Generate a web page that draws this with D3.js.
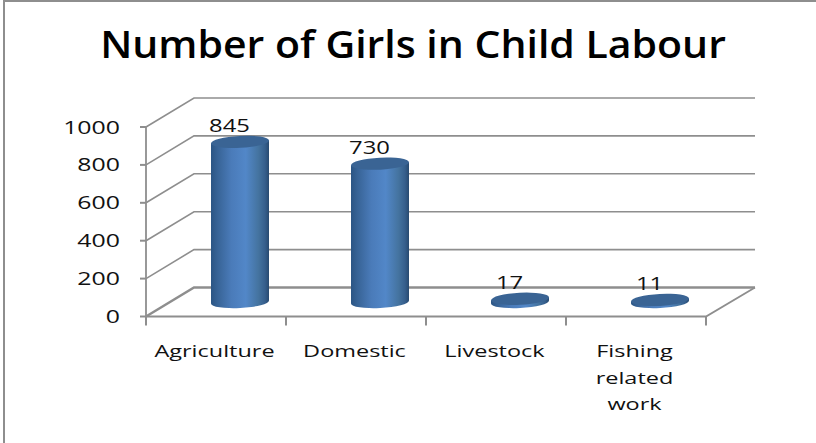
<!DOCTYPE html>
<html><head><meta charset="utf-8">
<script src="https://cdnjs.cloudflare.com/ajax/libs/d3/7.8.5/d3.min.js"></script>
<style>html,body{margin:0;padding:0;background:#fff}svg{display:block}text{font-family:"Open Sans",sans-serif;fill:#111}</style>
</head><body><svg id="c" width="816" height="443"></svg>
<script>
const chartTitle = "Number of Girls in Child Labour";
const categories = ["Agriculture","Domestic","Livestock","Fishing related work"];
const values = [845,730,17,11];
const valueTicks = [0,200,400,600,800,1000];

const W=816,H=443, front={x0:146,x1:706,y0:316.5,y1:127}, depth={dx:48,dy:-29};
const svg=d3.select("#c");
const x=d3.scaleBand().domain(categories).range([front.x0,front.x1]);
const y=d3.scaleLinear().domain([0,1000]).range([front.y0,front.y1]);
const grey="#8e8e8e";

function stretch(sel,k){sel.each(function(){const l=this.getComputedTextLength();d3.select(this).attr("textLength",l*k).attr("lengthAdjust","spacingAndGlyphs");});return sel;}

// outer frame
svg.append("path").attr("d",`M4,${H}V1H${W}`).attr("fill","none").attr("stroke",grey).attr("stroke-width",2);

// title
stretch(svg.append("text").attr("x",413).attr("y",58).attr("text-anchor","middle").attr("font-size",37).attr("font-weight",600).style("fill","#000").text(chartTitle),1.108);

// gridlines on back wall and side wall
const g=svg.append("g").attr("fill","none").attr("stroke",grey);
valueTicks.forEach(t=>{
  const yf=y(t), yb=yf+depth.dy;
  g.append("path").attr("d",`M${front.x0},${yf}L${front.x0+depth.dx},${yb}H${front.x1+depth.dx+1}`).attr("stroke-width",t===0?2.5:1.6);
  g.append("path").attr("d",`M${front.x0-6},${yf}H${front.x0}`).attr("stroke-width",2);
});
// axes
g.append("path").attr("d",`M${front.x0},${y(1000)}V${y(0)}H${front.x1}L${front.x1+depth.dx+1},${y(0)+depth.dy}`).attr("stroke-width",1.8);
categories.concat(["end"]).forEach((c,i)=>{
  const px=c==="end"?front.x1:x(c);
  g.append("path").attr("d",`M${px},${y(0)}v9`).attr("stroke-width",2);
});

// y tick labels
stretch(svg.append("g").selectAll("text").data(valueTicks).join("text")
 .attr("x",120).attr("y",d=>y(d)+6.5).attr("text-anchor","end").attr("font-size",17.5).text(d=>d),1.42);

// gradient
const defs=svg.append("defs");
const lg=defs.append("linearGradient").attr("id","cyl");
[[0,"#2b5584"],[.12,"#386497"],[.35,"#4a7bb9"],[.6,"#5287c8"],[.82,"#44739f"],[.93,"#365f8d"],[1,"#284a70"]]
 .forEach(s=>lg.append("stop").attr("offset",s[0]).attr("stop-color",s[1]));

// cylinders
const barW=58, rx=barW/2, ry=6, rot=-3, base=-14.5;
const bars=svg.append("g").selectAll("g").data(categories.map((c,i)=>({c,v:values[i]}))).join("g")
 .attr("transform",d=>`translate(${x(d.c)+x.bandwidth()/2+depth.dx/2},0)`);
bars.append("path").attr("fill","url(#cyl)").attr("d",d=>{
  const t=y(d.v)+base, b=y(0)+base;
  return `M${-rx},${t+1.5}L${-rx},${b+1.5}A${rx},${ry} ${rot} 0 0 ${rx},${b-1.5}L${rx},${t-1.5}Z`;
});
bars.append("ellipse").attr("rx",rx).attr("ry",ry).attr("fill","#3a6494")
 .attr("transform",d=>`translate(0,${y(d.v)+base}) rotate(${rot})`);

// value labels
stretch(bars.append("text").attr("text-anchor","middle").attr("x",-10.5)
 .attr("y",d=>y(d.v)+base-10).attr("font-size",17.5).text(d=>d.v),1.36);

// category labels (wrapped to the band)
const lines={}; categories.forEach(c=>lines[c]=c==="Fishing related work"?c.split(" "):[c]);
const cg=svg.append("g");
categories.forEach(c=>{
  lines[c].forEach((ln,i)=>{
    stretch(cg.append("text").attr("x",x(c)+x.bandwidth()/2-1.5).attr("y",357+i*26.5)
      .attr("text-anchor","middle").attr("font-size",17).text(ln),1.38);
  });
});
</script></body></html>
